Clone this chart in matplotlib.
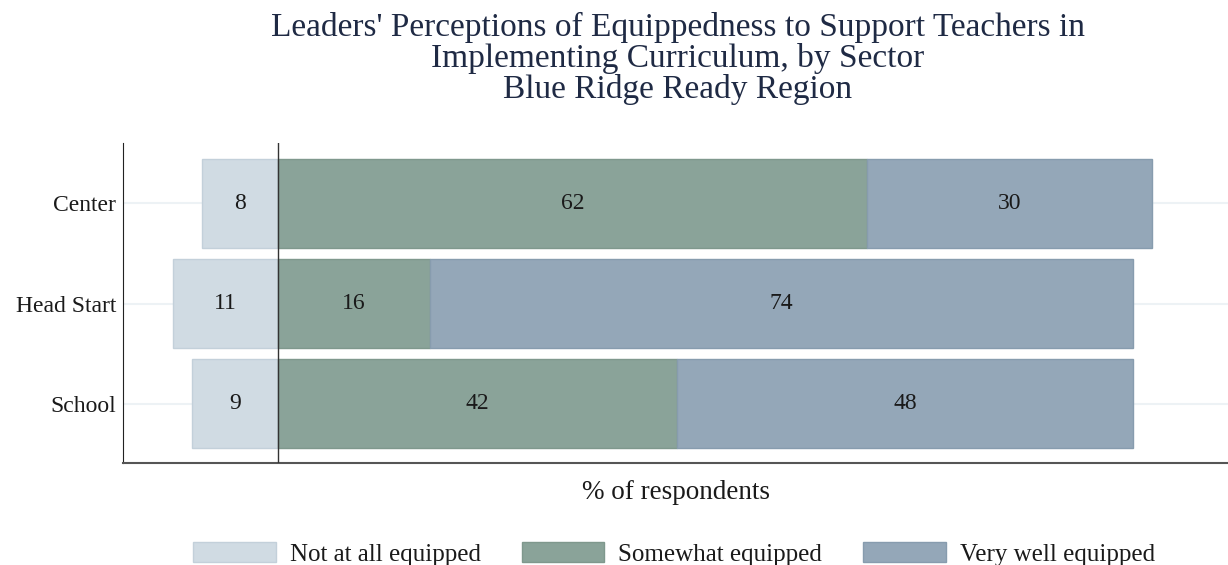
import numpy as np
import matplotlib
matplotlib.use('Agg')
import matplotlib.pyplot as plt
from matplotlib.patches import Patch

plt.rcParams['font.family'] = ['Liberation Serif', 'DejaVu Serif']

# data
sectors = ['Center', 'Head Start', 'School']
not_at_all = [8, 11, 9]
somewhat = [62, 16, 42]
very_well = [30, 74, 48]
series_names = ['Not at all equipped', 'Somewhat equipped', 'Very well equipped']

c_not = '#d0dbe3'
c_some = '#8aa399'
c_very = '#94a7b8'
text_col = '#1a1a1a'

fig = plt.figure(figsize=(12.28, 5.65), dpi=100)
ax = fig.add_axes([0.1002, 0.1805, 0.8998, 0.5664])

y = np.arange(len(sectors))
h = 0.89
neg = -np.array(not_at_all)
some = np.array(somewhat)
very = np.array(very_well)

# light grid lines behind bars
for yy in y:
    ax.axhline(yy, color='#edf2f5', lw=1.5, zorder=0)

ax.barh(y, neg, height=h, color=c_not, edgecolor='#c3d0da', lw=1, zorder=2)
ax.barh(y, some, height=h, color=c_some, edgecolor='#7f988d', lw=1, zorder=2)
ax.barh(y, very, left=some, height=h, color=c_very, edgecolor='#879cae', lw=1, zorder=2)

for i in range(len(sectors)):
    ax.text(neg[i] / 2, y[i], str(not_at_all[i]), ha='center', va='center', fontsize=17, color=text_col, zorder=3)
    ax.text(some[i] / 2, y[i], str(somewhat[i]), ha='center', va='center', fontsize=17, color=text_col, zorder=3)
    ax.text(some[i] + very[i] / 2, y[i], str(very_well[i]), ha='center', va='center', fontsize=17, color=text_col, zorder=3)

ax.axvline(0, color='#333333', lw=1, zorder=4)

ax.set_xlim(-16.3, 100)
ax.set_ylim(2.59, -0.6)
ax.set_yticks(y)
ax.set_yticklabels(sectors, fontsize=17, color=text_col)
ax.set_xticks([])
ax.tick_params(axis='y', length=0, pad=5)
ax.spines['top'].set_visible(False)
ax.spines['right'].set_visible(False)
ax.spines['left'].set_color('#222222')
ax.spines['bottom'].set_color('#555555')
ax.spines['bottom'].set_linewidth(1.5)
ax.set_xlabel('% of respondents', fontsize=19.5, color=text_col, labelpad=12)

fig.text(0.552, 0.978, "Leaders' Perceptions of Equippedness to Support Teachers in\n"
         "Implementing Curriculum, by Sector\nBlue Ridge Ready Region",
         ha='center', va='top', fontsize=24, color='#1f2a44', linespacing=1.0)

handles = [Patch(facecolor=c_not, edgecolor='#c3d0da'),
           Patch(facecolor=c_some, edgecolor='#7f988d'),
           Patch(facecolor=c_very, edgecolor='#879cae')]
fig.legend(handles, series_names, loc='center', bbox_to_anchor=(0.549, 0.02),
           ncol=3, frameon=False, fontsize=18, handlelength=3.3, handleheight=0.88,
           handletextpad=0.56, columnspacing=1.64, labelcolor=text_col)

fig.savefig('out.png', dpi=100)
